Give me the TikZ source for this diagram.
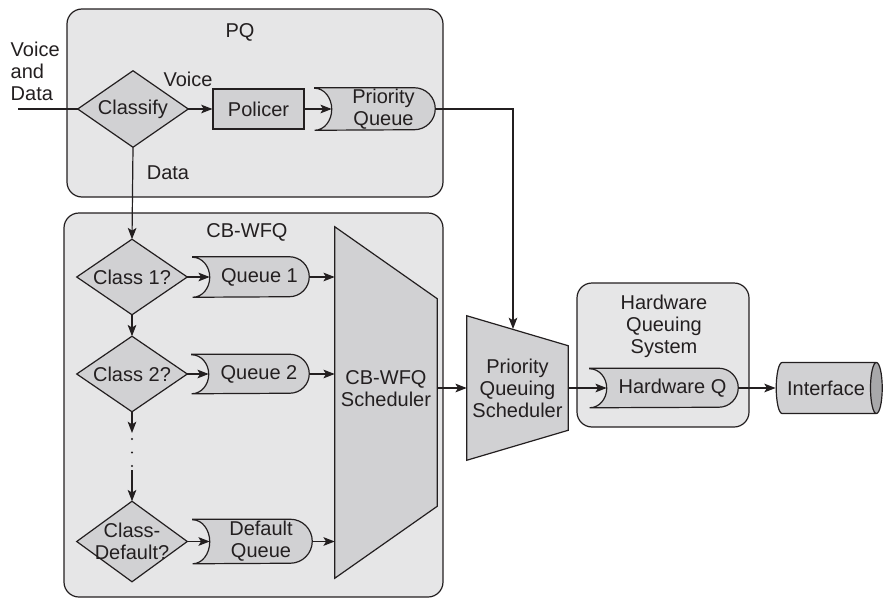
\documentclass[tikz,border=0pt]{standalone}
\usepackage{fontspec}
\setmainfont{Liberation Sans}
\usetikzlibrary{arrows.meta, shapes.geometric}

\definecolor{boxbg}{HTML}{E6E6E7}
\definecolor{shapebg}{HTML}{D1D1D3}
\definecolor{endbg}{HTML}{A8A8AA}
\definecolor{ink}{HTML}{231F20}
\newcommand\upx{0.75pt}
\pgfdeclarelayer{back}
\pgfdeclarelayer{mid}
\pgfsetlayers{back,mid,main}

% outlines drawn from the anchors of a plain text node
% (queue node starts at the tip of its hollow left end)
\newcommand\queueline[2]{%
  \draw[shapeline] ([xshift=-17*\upx]#1.north west) -- ([xshift=-#2*\upx]#1.north east)
    arc[start angle=90, end angle=-90, radius=#2*\upx] -- ([xshift=-17*\upx]#1.south west)
    arc[start angle=-90, end angle=90, x radius=17*\upx, y radius=#2*\upx] -- cycle;}
\newcommand\diamondline[1]{%
  \draw[shapeline] (#1.north) -- (#1.east) -- (#1.south) -- (#1.west) -- cycle;}
\newcommand\schedline[2]{%
  \draw[shapeline] (#1.north west) -- ([yshift=-#2*\upx]#1.north east)
    -- ([yshift=#2*\upx]#1.south east) -- (#1.south west) -- cycle;}

\begin{document}
\begin{tikzpicture}[x=0.75pt, y=-0.75pt,
  every node/.style={font=\fontsize{15}{16.5}\selectfont, text=ink},
  bigbox/.style={draw=ink, fill=boxbg, line width=0.9pt, rounded corners=15*\upx, inner sep=0pt},
  shapeline/.style={draw=ink, fill=shapebg, line width=0.9pt},
  plain/.style={inner sep=0pt, align=center},
  wire/.style={draw=ink, line width=0.9pt},
  arr/.style={wire, -{Stealth[length=8.5pt, width=6.5pt, inset=2pt]}}]
\useasboundingbox (0,0) rectangle (883,600);
% ---------- containers ----------
\begin{pgfonlayer}{back}
\node[bigbox, minimum width=376*\upx, minimum height=188*\upx] (pq) at (255,103) {};
\node[bigbox, minimum width=379*\upx, minimum height=384*\upx] (cbwfq) at (253.5,405) {};
\node[bigbox, minimum width=172*\upx, minimum height=144*\upx] (hwsys) at (663,355) {};
\end{pgfonlayer}
\node (pqlabel) at (240,32) {PQ};
\node (cblabel) at (247,232) {CB-WFQ};
\node[align=center] (hwlabel) at (664,326) {Hardware\\Queuing\\System};
% ---------- PQ part ----------
\node[align=left, anchor=west] (src) at (6,71) {Voice\\and\\Data};
\coordinate (in) at (18,109);
\node[plain, minimum width=110*\upx, minimum height=76*\upx] (classify) at (133,109) {Classify};
\node (voice) at (188,79) {Voice};
\node[draw=ink, fill=shapebg, line width=0.8pt, inner sep=0pt,
  minimum width=91*\upx, minimum height=40*\upx] (policer) at (258.5,109) {Policer};
\node[plain, minimum width=103*\upx, minimum height=42*\upx] (prioq) at (383.5,109) {Priority\\Queue};
\node (data) at (168,173) {Data};
% ---------- CB-WFQ part ----------
\node[plain, minimum width=110*\upx, minimum height=75*\upx] (class1) at (132,277) {Class 1?};
\node[plain, minimum width=110*\upx, minimum height=75*\upx] (class2) at (132,374) {Class 2?};
\node[plain, minimum width=110*\upx, minimum height=80*\upx] (classdef) at (132,541.5) {Class-\\Default?};
\node[plain, minimum width=99*\upx, minimum height=40*\upx] (queue1) at (259.5,277) {Queue 1};
\node[plain, minimum width=100*\upx, minimum height=39*\upx] (queue2) at (259,374) {Queue 2};
\node[plain, minimum width=102*\upx, minimum height=44*\upx] (defq) at (261,541.5) {Default\\Queue};
\node[plain, minimum width=102*\upx, minimum height=351*\upx,
  label={[align=center, yshift=10.5pt]center:CB-WFQ\\Scheduler}] (cbs) at (386,402.5) {};
\coordinate (gapA) at (132,433);
\coordinate (gapB) at (132,470);
% ---------- output side ----------
\node[plain, minimum width=101*\upx, minimum height=144*\upx] (pqs) at (517.5,388) {Priority\\Queuing\\Scheduler};
\coordinate (pqstop) at (513,329);
\node[plain, minimum width=131*\upx, minimum height=39*\upx] (hwq) at (672.5,388) {Hardware Q};
\node[cylinder, draw=ink, line width=0.9pt, cylinder uses custom fill, cylinder body fill=shapebg,
  cylinder end fill=endbg, aspect=0.8, inner sep=0pt,
  minimum height=106*\upx, minimum width=51*\upx] (iface) at (826,388) {Interface};
% ---------- shape outlines ----------
\begin{pgfonlayer}{mid}
\foreach \n in {classify, class1, class2, classdef} {\diamondline{\n}}
\queueline{prioq}{21}
\queueline{queue1}{20}
\queueline{queue2}{19.5}
\queueline{defq}{22}
\queueline{hwq}{19.5}
\schedline{cbs}{72}
\schedline{pqs}{30}
\end{pgfonlayer}
% ---------- connectors ----------
\draw[wire] (in) -- (classify.west);
\draw[arr] (classify.east) -- (policer.west);
\draw[arr] (policer.east) -- (prioq.west);
\draw[arr] (prioq.east) -| (pqstop);
\draw[arr] (classify.south) -- (class1.north);
\draw[arr] (class1.south) -- (class2.north);
\draw[arr] (class2.south) -- (gapA);
\foreach \y in {439,452.5,466} \fill[ink] (132,\y) circle (0.9pt);
\draw[arr] (gapB) -- (classdef.north);
\foreach \c/\q in {class1/queue1, class2/queue2, classdef/defq} {
  \draw[arr] (\c.east) -- (\q.west);
  \draw[arr] (\q.east) -- (\q.east -| cbs.west);
}
\draw[arr] (cbs.east |- pqs.west) -- (pqs.west);
\draw[arr] (pqs.east) -- (hwq.west);
\draw[arr] (hwq.east) -- (iface.west);
\end{tikzpicture}
\end{document}
